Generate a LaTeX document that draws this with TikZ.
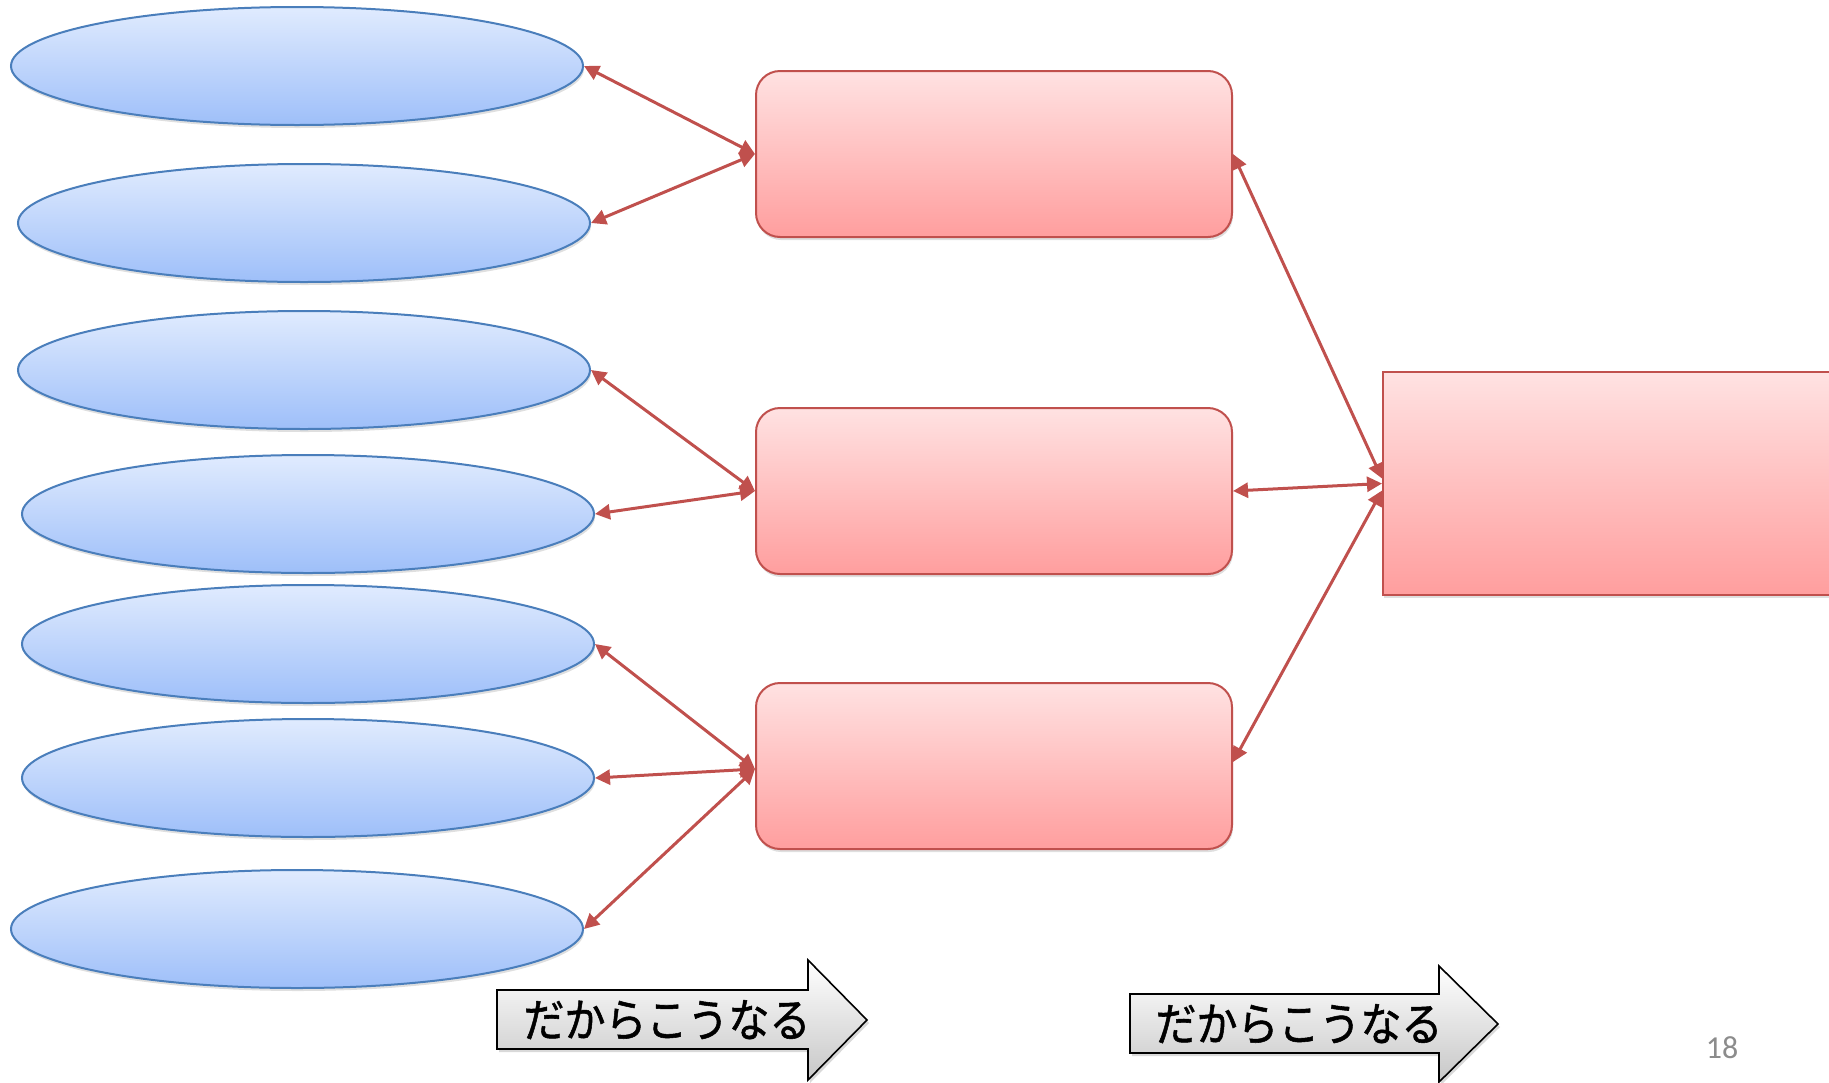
\documentclass[tikz,border=0pt]{standalone}
\usepackage{fontspec}
\setmainfont{Carlito}
\newfontfamily\jpfont[FakeBold=1.2]{Noto Sans CJK JP}
\usetikzlibrary{arrows.meta,shadows,shapes.geometric}
\definecolor{ellline}{HTML}{4A7EBB}
\definecolor{elltop}{HTML}{E0EBFE}
\definecolor{ellbot}{HTML}{9EBFF9}
\definecolor{recline}{HTML}{C0504D}
\definecolor{rectop}{HTML}{FFE2E2}
\definecolor{recbot}{HTML}{FF9E9E}
\definecolor{conncol}{HTML}{C0504D}
\definecolor{pagenum}{HTML}{8C8C8C}
\tikzset{
  oval/.style={ellipse, draw=ellline, line width=2pt, shading=axis, top color=elltop, bottom color=ellbot,
    minimum width=572pt, minimum height=118pt, inner sep=0pt,
    drop shadow={opacity=0.25, shadow xshift=1pt, shadow yshift=-3pt}},
  rbox/.style={rectangle, rounded corners=24pt, draw=recline, line width=2pt, shading=axis, top color=rectop, bottom color=recbot,
    minimum width=476pt, minimum height=166pt, inner sep=0pt,
    drop shadow={opacity=0.25, shadow xshift=1pt, shadow yshift=-3pt}},
  bigbox/.style={rectangle, draw=recline, line width=2pt, shading=axis, top color=rectop, bottom color=recbot,
    minimum width=540pt, minimum height=223pt, inner sep=0pt,
    drop shadow={opacity=0.25, shadow xshift=1pt, shadow yshift=-3pt}},
  conn/.style={draw=conncol, line width=3pt,
    {Triangle[length=15pt,width=15pt]}-{Triangle[length=15pt,width=15pt]}},
  blockarrow/.style={draw=black, line width=1.6pt, shading=axis, top color=white, bottom color=black!22,
    drop shadow={opacity=0.3, shadow xshift=2pt, shadow yshift=-3pt}},
  arrowtext/.style={font=\jpfont\fontsize{41pt}{44pt}\selectfont, inner sep=0pt}
}
\begin{document}
\begin{tikzpicture}[x=1pt,y=-1pt]
\useasboundingbox (0,0) rectangle (1829,1082);
% ellipses
\node[oval] (e1) at (297,66) {};
\node[oval] (e2) at (304,223) {};
\node[oval] (e3) at (304,370) {};
\node[oval] (e4) at (308,514) {};
\node[oval] (e5) at (308,644) {};
\node[oval] (e6) at (308,778) {};
\node[oval] (e7) at (297,929) {};
% rounded boxes
\node[rbox] (r1) at (994,154) {};
\node[rbox] (r2) at (994,491) {};
\node[rbox] (r3) at (994,766) {};
% big box
\node[bigbox] (big) at (1653,483.5) {};
% connectors
\draw[conn] (e1.east) -- (r1.west);
\draw[conn] (e2.east) -- (r1.west);
\draw[conn] (e3.east) -- (r2.west);
\draw[conn] (e4.east) -- (r2.west);
\draw[conn] (e5.east) -- ([yshift=-3pt]r3.west);
\draw[conn] (e6.east) -- ([yshift=-3pt]r3.west);
\draw[conn] (e7.east) -- ([yshift=-3pt]r3.west);
\draw[conn] (r1.east) -- ([yshift=5pt]big.west);
\draw[conn] (r2.east) -- (big.west);
\draw[conn] ([yshift=4pt]r3.east) -- ([yshift=-7pt]big.west);
% block arrows
\path[blockarrow] (497,990) -- (808,990) -- (808,960) -- (867,1020) -- (808,1080) -- (808,1049) -- (497,1049) -- cycle;
\node[arrowtext] (t1) at (667,1020) {\scalebox{1}[1.12]{だからこうなる}};
\path[blockarrow] (1130,994) -- (1439,994) -- (1439,966) -- (1498,1024) -- (1439,1082) -- (1439,1053) -- (1130,1053) -- cycle;
\node[arrowtext] (t2) at (1299,1024) {\scalebox{1}[1.12]{だからこうなる}};
% page number
\node[font=\fontsize{32pt}{36pt}\selectfont, text=pagenum, inner sep=0pt] (pn) at (1722,1048) {18};
\end{tikzpicture}
\end{document}
